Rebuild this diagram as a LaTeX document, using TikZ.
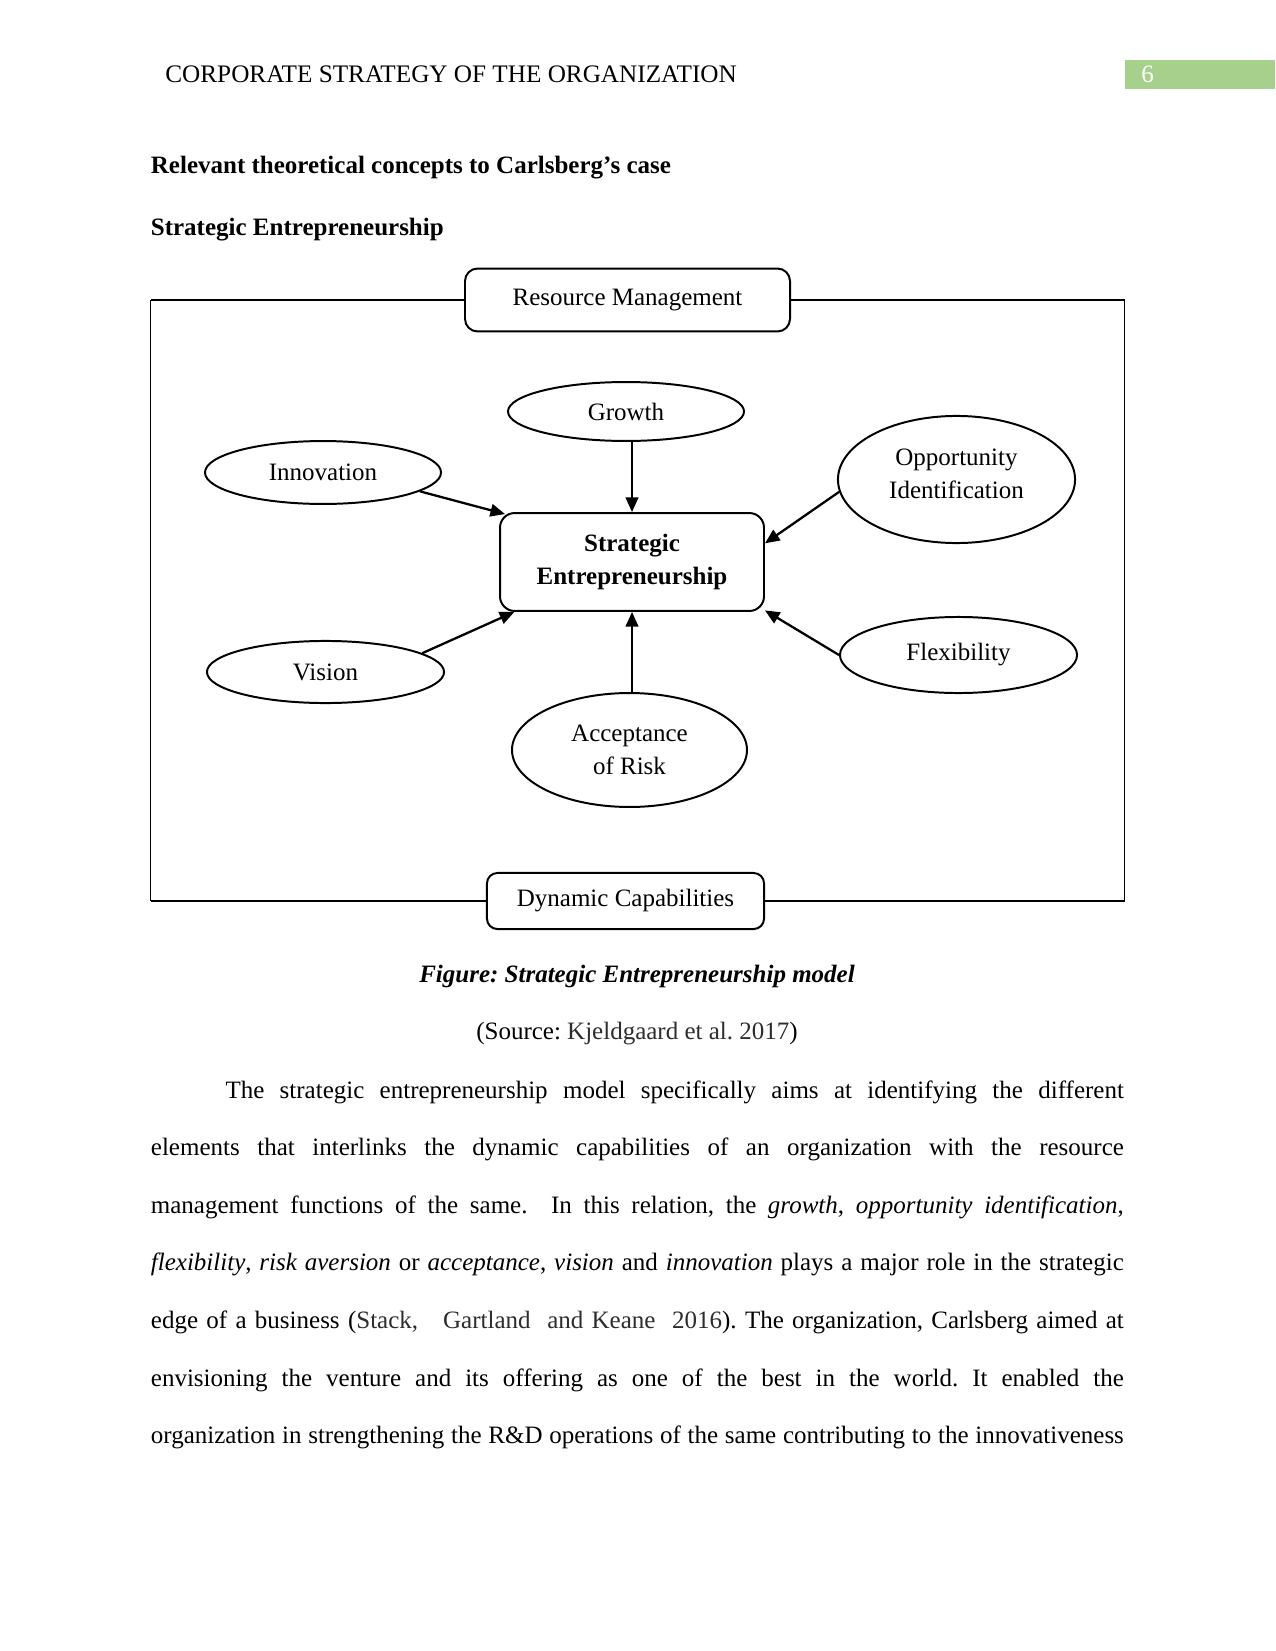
\documentclass[tikz,border=0pt]{standalone}
\usepackage{fontspec}
\setmainfont{Liberation Serif}
\usetikzlibrary{shapes.geometric,arrows.meta,calc}
\definecolor{hdrgreen}{RGB}{168,208,141}
\definecolor{citecol}{RGB}{45,45,45}
\frenchspacing
\begin{document}
\begin{tikzpicture}[x=0.48pt,y=-0.48pt,
  ell/.style={draw,ellipse,line width=0.95pt,inner sep=0pt,font=\fontsize{12}{16}\selectfont,align=center},
  rbox/.style={draw,rectangle,line width=0.95pt,inner sep=0pt,font=\fontsize{12}{16}\selectfont,align=center},
  arr/.style={-{Triangle[length=7pt,width=6pt]},line width=1.1pt},
  hframe/.style={line width=1.1pt},
  vframe/.style={line width=0.6pt},
  body/.style={anchor=base west,inner sep=0pt,font=\fontsize{12}{14}\selectfont},
  txt/.style={inner sep=0pt,font=\fontsize{12}{14}\selectfont}]

\useasboundingbox[fill=white] (0,0) rectangle (1275,1651);

% header
\node (pgbox) [fill=hdrgreen,anchor=north west,minimum width=72pt,minimum height=13.9pt,inner sep=0pt] at (1125,60) {};
\node (pgnum) [txt,anchor=base west,text=white] at (1141,83) {6};
\node (hdr) [txt,anchor=base west,font=\fontsize{12.1}{14}\selectfont] at (165,83) {CORPORATE STRATEGY OF THE ORGANIZATION};

% headings
\node (h1) [txt,anchor=base west,font=\fontsize{12}{14}\selectfont\bfseries] at (150.5,173.5) {Relevant theoretical concepts to Carlsberg’s case};
\node (h2) [txt,anchor=base west,font=\fontsize{12}{14}\selectfont\bfseries] at (150.5,236) {Strategic Entrepreneurship};

% diagram nodes
\node (rm) [rbox,rounded corners=6pt,minimum width=156pt,minimum height=30.2pt] at (627.5,300) {Resource Management};
\node (dc) [rbox,rounded corners=5pt,minimum width=133pt,minimum height=26.9pt] at (625.5,901) {Dynamic Capabilities};
\node (se) [rbox,rounded corners=7pt,minimum width=126.7pt,minimum height=47pt,font=\fontsize{12}{16}\selectfont\bfseries] at (632,562) {Strategic\\Entrepreneurship};
\node (gro) [ell,minimum width=113.3pt,minimum height=28.3pt] at (626,411.5) {Growth};
\node (inn) [ell,minimum width=113.3pt,minimum height=30.2pt] at (323,472.5) {Innovation};
\node (opp) [ell,minimum width=113.8pt,minimum height=61pt] at (956.5,479.5) {\raisebox{2pt}[\height][\depth]{\begin{tabular}{@{}c@{}}Opportunity\\Identification\end{tabular}}};
\node (vis) [ell,minimum width=113.8pt,minimum height=29.8pt] at (325.5,672) {Vision};
\node (flex) [ell,minimum width=113.8pt,minimum height=36.5pt] at (958.5,655) {Flexibility};
\node (acc) [ell,minimum width=112.8pt,minimum height=54.7pt] at (629.5,750) {Acceptance\\of Risk};

% frame
\coordinate (tl) at (150.5,300);
\coordinate (tr) at (1124.5,300);
\coordinate (bl) at (150.5,901);
\coordinate (br) at (1124.5,901);
\draw[hframe] (rm.west) -- (tl);
\draw[hframe] (rm.east) -- (tr);
\draw[hframe] (dc.west) -- (bl);
\draw[hframe] (dc.east) -- (br);
\draw[vframe] (tl) -- (bl);
\draw[vframe] (tr) -- (br);

% arrows
\draw[arr] (se.north |- gro.south) -- (se.north);
\draw[arr] (se.south |- acc.north) -- (se.south);
\draw[arr] (inn.-11) -- ($(se.north west)+(6,2)$);
\draw[arr] (opp.186.6) -- (se.8.6);
\draw[arr] (flex.west) -- (se.-20.2);
\draw[arr] (vis.11.4) -- (se.203);

% caption
\node (cap) [txt,anchor=base,font=\fontsize{12}{14}\selectfont\bfseries\itshape] at (637,982) {Figure: Strategic Entrepreneurship model};
\node (src) [txt,anchor=base] at (637,1039) {(Source: {\color{citecol}Kjeldgaard et al. 2017})};

% body text
\node (l1) [body] at (150.5,1098) {\makebox[467pt][s]{\hspace*{35.8pt}The strategic entrepreneurship model specifically aims at identifying the different}};
\node (l2) [body] at (150.5,1155.5) {\makebox[467pt][s]{elements that interlinks the dynamic capabilities of an organization with the resource}};
\node (l3) [body] at (150.5,1213) {\makebox[467pt][s]{management functions of the same.\ \ In this relation, the \textit{growth}, \textit{opportunity identification},}};
\node (l4) [body] at (150.5,1270.7) {\makebox[467pt][s]{\textit{flexibility}, \textit{risk aversion} or \textit{acceptance}, \textit{vision} and \textit{innovation} plays a major role in the strategic}};
\node (l5) [body] at (150.5,1328) {\makebox[467pt][s]{edge of a business ({\color{citecol}Stack,\ \ \ Gartland\ \ and Keane\ \ 2016}). The organization, Carlsberg aimed at}};
\node (l6) [body] at (150.5,1386) {\makebox[467pt][s]{envisioning the venture and its offering as one of the best in the world. It enabled the}};
\node (l7) [body] at (150.5,1443) {\makebox[467pt][s]{organization in strengthening the R\&D operations of the same contributing to the innovativeness}};
\end{tikzpicture}
\end{document}
